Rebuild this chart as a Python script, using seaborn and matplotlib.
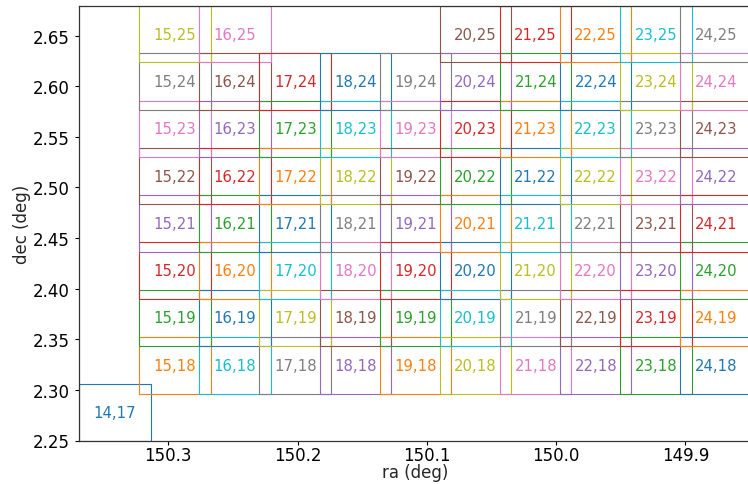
import matplotlib
matplotlib.use("Agg")
import matplotlib.pyplot as plt
import pandas as pd
import seaborn as sns

# Patch x indices (columns) and their RA bounds (deg)
patch_x = [14, 15, 16, 17, 18, 19, 20, 21, 22, 23, 24]
ra_east = [150.3689, 150.3224, 150.2760, 150.2295, 150.1830, 150.1365,
           150.0900, 150.0435, 149.9971, 149.9506, 149.9041]
ra_west = [150.3136, 150.2671, 150.2207, 150.1742, 150.1277, 150.0812,
           150.0347, 149.9882, 149.9418, 149.8953, 149.8488]

# Patch y indices (rows) and their Dec bounds (deg)
patch_y = [17, 18, 19, 20, 21, 22, 23, 24, 25]
dec_low = [2.2500, 2.2964, 2.3431, 2.3898, 2.4365, 2.4832, 2.5299, 2.5767, 2.6234]
dec_high = [2.3056, 2.3523, 2.3990, 2.4457, 2.4924, 2.5391, 2.5858, 2.6325, 2.6792]

# Range of patch y indices present in each column
col_first_y = [17, 18, 18, 18, 18, 18, 18, 18, 18, 18, 18]
col_last_y = [17, 25, 25, 24, 24, 24, 25, 25, 25, 25, 25]

x_ticks = [150.3, 150.2, 150.1, 150.0, 149.9]
y_ticks = [2.25, 2.30, 2.35, 2.40, 2.45, 2.50, 2.55, 2.60, 2.65]

sns.set_style("ticks")
plt.rcParams['font.family'] = ['DejaVu Sans']

fig = plt.figure(figsize=(7.48, 4.85), dpi=100)
ax = fig.add_axes([79.2 / 748, 43.5 / 485, 672.5 / 748, 434.5 / 485])

palette = sns.color_palette("tab10", 10)
k = 0
for i, px in enumerate(patch_x):
    for py in range(col_first_y[i], col_last_y[i] + 1):
        j = patch_y.index(py)
        r0, r1 = ra_east[i], ra_west[i]
        d0, d1 = dec_low[j], dec_high[j]
        df = pd.DataFrame({
            "ra": [r0, r1, r1, r0, r0],
            "dec": [d0, d0, d1, d1, d0],
        })
        col = palette[k % 10]
        sns.lineplot(data=df, x="ra", y="dec", sort=False, estimator=None,
                     color=col, linewidth=0.8, ax=ax)
        ax.text((r0 + r1) / 2, (d0 + d1) / 2, f"{px},{py}", color=col,
                ha="center", va="center", fontsize=10.7)
        k += 1

ax.set_xlim(max(ra_east), min(ra_west))
ax.set_ylim(min(dec_low), max(dec_high))
ax.set_xticks(x_ticks)
ax.set_xticklabels([f"{v:.1f}" for v in x_ticks])
ax.set_yticks(y_ticks)
ax.set_yticklabels([f"{v:.2f}" for v in y_ticks])
ax.tick_params(labelsize=12, colors="black", length=3.1)
ax.tick_params(axis="x", pad=0.8)
for s in ax.spines.values():
    s.set_color("#333333")
    s.set_linewidth(0.9)
ax.set_xlabel("ra (deg)", fontsize=12, labelpad=-0.3)
ax.set_ylabel("dec (deg)", fontsize=12, labelpad=1.5)

fig.savefig("out.png", dpi=100)
